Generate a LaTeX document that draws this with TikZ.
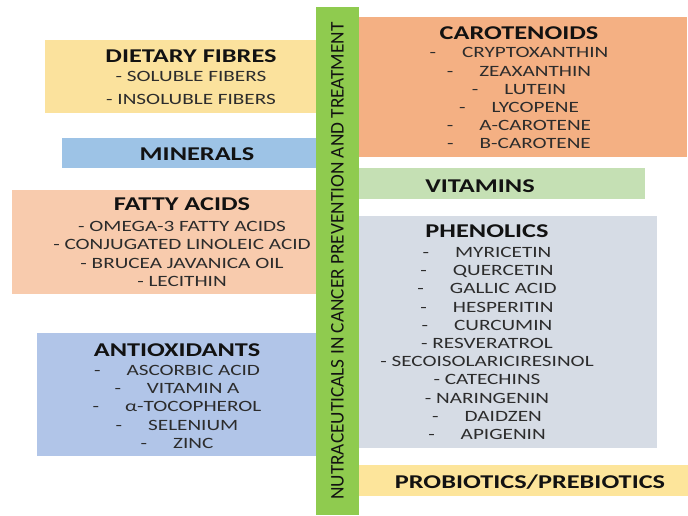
\documentclass[tikz,border=0pt]{standalone}
\usepackage{fontspec}
\setmainfont{Carlito}[FakeStretch=1.35]
\newfontfamily\barfont{Carlito}

\definecolor{fibrefill}{HTML}{FBE29D}
\definecolor{mineralfill}{HTML}{9DC3E6}
\definecolor{fattyfill}{HTML}{F8CBAD}
\definecolor{antioxfill}{HTML}{B1C5E8}
\definecolor{carotfill}{HTML}{F4B083}
\definecolor{vitaminfill}{HTML}{C5E0B4}
\definecolor{phenolfill}{HTML}{D6DCE5}
\definecolor{probiofill}{HTML}{FDE59B}
\definecolor{barfill}{HTML}{8FCB4F}
\definecolor{titleblack}{HTML}{121212}
\definecolor{itemgray}{HTML}{2C2C2C}

\newcommand{\cattitle}[1]{{\fontsize{19.5}{22}\selectfont\bfseries\color{titleblack}#1}}
\newcommand{\gapitem}[1]{-\hspace{26pt}#1}

\tikzset{
  cat box/.style={
    rectangle, draw=none, inner sep=0pt, anchor=north west
  },
  cat text/.style={
    align=center, inner sep=0pt, text=itemgray,
    font=\fontsize{15.7}{18.2}\selectfont
  },
  cat single/.style={
    inner sep=0pt, text=titleblack,
    font=\fontsize{19.5}{22}\selectfont\bfseries
  },
  title bar/.style={
    rectangle, draw=none, fill=barfill, inner sep=0pt, text=titleblack,
    font=\barfont\fontsize{19.3}{22}\selectfont
  }
}

\begin{document}
\begin{tikzpicture}[x=1pt, y=-1pt]
\useasboundingbox (0,0) rectangle (688,515);

% left column
\node[cat box, fill=fibrefill, minimum width=271pt, minimum height=73pt] (fibres) at (45,40) {};
\node[cat text] (fibrestext) at (191,77) {\cattitle{DIETARY FIBRES}\\[1pt]
  - SOLUBLE FIBERS\\[4pt]
  - INSOLUBLE FIBERS};

\node[cat box, fill=mineralfill, minimum width=254pt, minimum height=30pt] (minerals) at (62,138) {};
\node[cat single] (mineralstext) at (197,154) {MINERALS};

\node[cat box, fill=fattyfill, minimum width=304pt, minimum height=104pt] (fatty) at (12,190) {};
\node[cat text] (fattytext) at (182,242) {\cattitle{FATTY ACIDS}\\[3pt]
  - OMEGA-3 FATTY ACIDS\\
  - CONJUGATED LINOLEIC ACID\\
  - BRUCEA JAVANICA OIL\\
  - LECITHIN};

\node[cat box, fill=antioxfill, minimum width=279pt, minimum height=123pt] (antiox) at (37,333) {};
\node[cat text] (antioxtext) at (177,396) {\cattitle{ANTIOXIDANTS}\\[1pt]
  \gapitem{ASCORBIC ACID}\\
  \gapitem{VITAMIN A}\\
  \gapitem{α-TOCOPHEROL}\\
  \gapitem{SELENIUM}\\
  \gapitem{ZINC}};

% right column
\node[cat box, fill=carotfill, minimum width=328pt, minimum height=140pt] (carot) at (359,17) {};
\node[cat text] (carottext) at (519,88) {\cattitle{CAROTENOIDS}\\
  \gapitem{CRYPTOXANTHIN}\\
  \gapitem{ZEAXANTHIN}\\
  \gapitem{LUTEIN}\\
  \gapitem{LYCOPENE}\\
  \gapitem{A-CAROTENE}\\
  \gapitem{B-CAROTENE}};

\node[cat box, fill=vitaminfill, minimum width=286pt, minimum height=31pt] (vitamins) at (359,168) {};
\node[cat single] (vitaminstext) at (480,186) {VITAMINS};

\node[cat box, fill=phenolfill, minimum width=298pt, minimum height=232pt] (phenol) at (359,216) {};
\node[cat text] (phenoltext) at (487,332) {\cattitle{PHENOLICS}\\[2pt]
  \gapitem{MYRICETIN}\\
  \gapitem{QUERCETIN}\\
  \gapitem{GALLIC ACID}\\
  \gapitem{HESPERITIN}\\
  \gapitem{CURCUMIN}\\
  - RESVERATROL\\
  - SECOISOLARICIRESINOL\\
  - CATECHINS\\
  - NARINGENIN\\
  \gapitem{DAIDZEN}\\
  \gapitem{APIGENIN}};

\node[cat box, fill=probiofill, minimum width=329pt, minimum height=31pt] (probio) at (359,465) {};
\node[cat single] (probiotext) at (530,482) {PROBIOTICS/PREBIOTICS};

% central bar
\node[title bar, rotate=90, minimum width=508pt, minimum height=43pt] (bar) at (337.5,261)
  {NUTRACEUTICALS IN CANCER PREVENTION AND TREATMENT};

\end{tikzpicture}
\end{document}
